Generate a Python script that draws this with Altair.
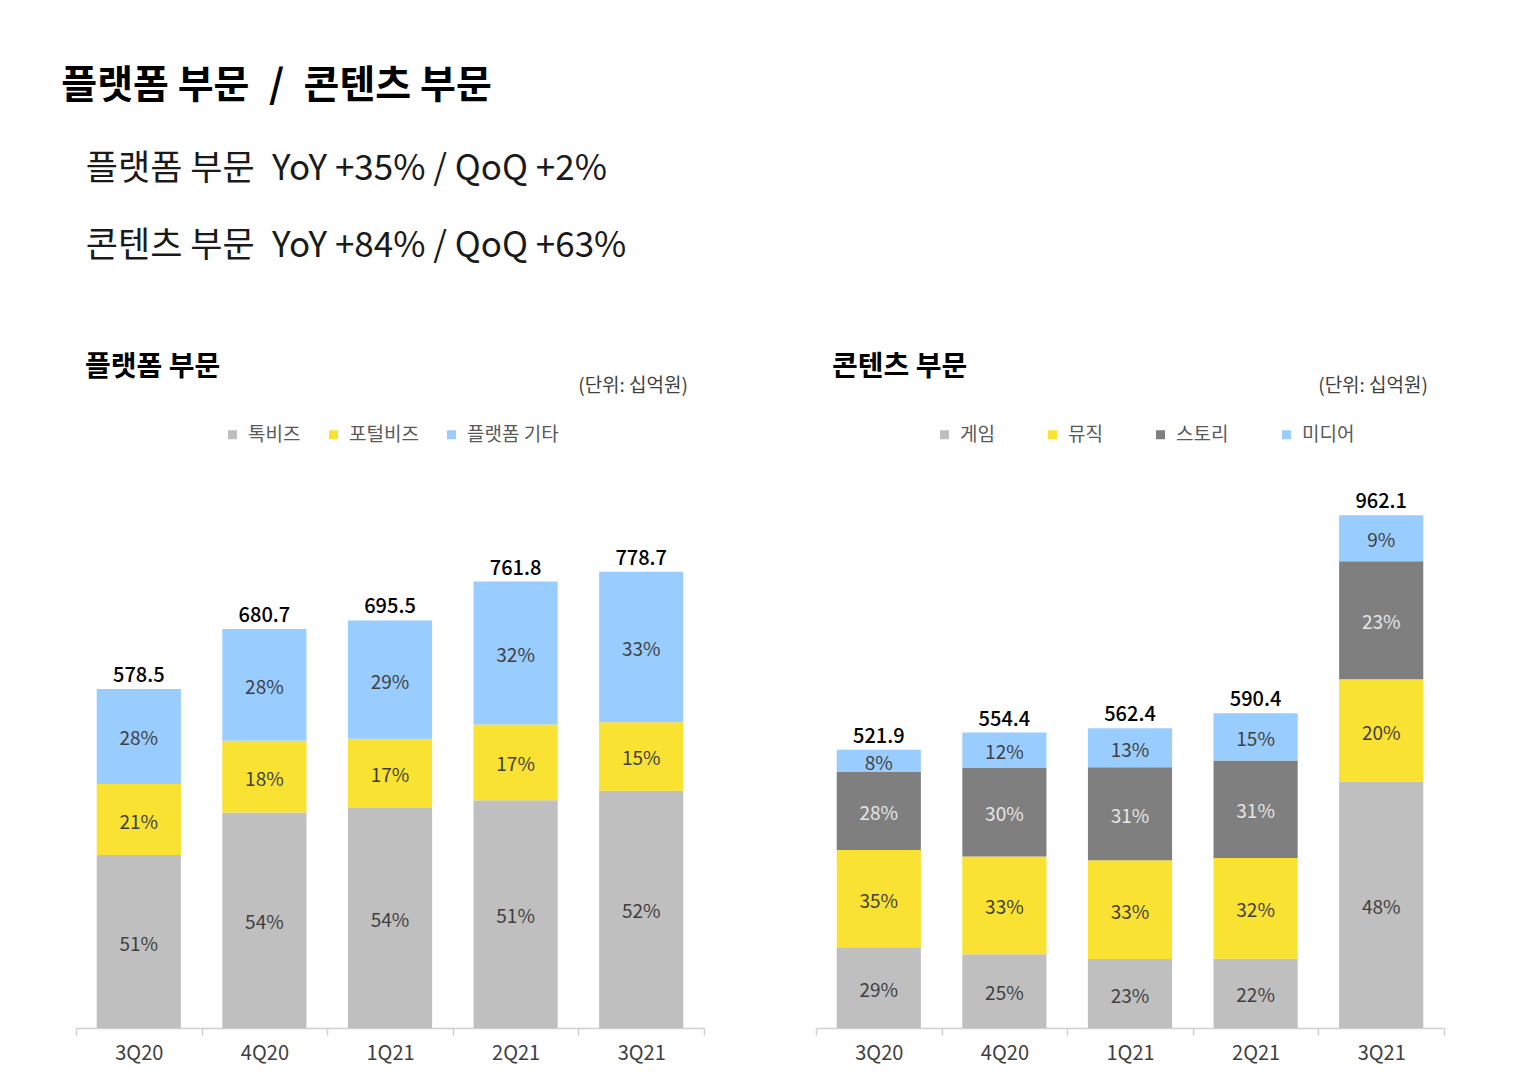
import altair as alt
import pandas as pd

FONT = "Noto Sans CJK KR"

# ---- data ----
quarters = ["3Q20", "4Q20", "1Q21", "2Q21", "3Q21"]

plat_series = ["톡비즈", "포털비즈", "플랫폼 기타"]
plat_colors = ["#BFBFBF", "#F9E232", "#99CCFF"]
plat_totals = [578.5, 680.7, 695.5, 761.8, 778.7]
plat_talk = [51, 54, 54, 51, 52]
plat_portal = [21, 18, 17, 17, 15]
plat_other = [28, 28, 29, 32, 33]

cont_series = ["게임", "뮤직", "스토리", "미디어"]
cont_colors = ["#BFBFBF", "#F9E232", "#7F7F7F", "#99CCFF"]
cont_totals = [521.9, 554.4, 562.4, 590.4, 962.1]
cont_game = [29, 25, 23, 22, 48]
cont_music = [35, 33, 33, 32, 20]
cont_story = [28, 30, 31, 31, 23]
cont_media = [8, 12, 13, 15, 9]

main_title = "플랫폼 부문\u2002/\u2002콘텐츠 부문"
sub_lines = [
    "\u200b\u2002\u2009플랫폼 부문\u2002YoY +35% / QoQ +2%",
    "\u200b\u2002\u2009콘텐츠 부문\u2002YoY +84% / QoQ +63%",
]
unit_text = "(단위: 십억원)"


def build(totals, series, shares, dark_series):
    rows = []
    for qi, q in enumerate(quarters):
        lo = 0.0
        for si, s in enumerate(series):
            pct = shares[si][qi]
            v = totals[qi] * pct / 100.0
            rows.append({
                "quarter": q, "series": s, "order": si,
                "lo": lo, "hi": lo + v, "mid": lo + v / 2,
                "label": f"{pct}%",
                "tcolor": "#E6E6E6" if s in dark_series else "#3F3F3F",
            })
            lo += v
    tot = pd.DataFrame({"quarter": quarters, "total": totals,
                        "label": [f"{t:.1f}" for t in totals]})
    return pd.DataFrame(rows), tot


def panel(df, tot, series, colors, ymax, title, title_x, legend_x, col_pad):
    xenc = alt.X("quarter:N", sort=quarters,
                 scale=alt.Scale(paddingInner=0, paddingOuter=0),
                 axis=alt.Axis(title=None, labelAngle=0, tickBand="extent",
                               domainColor="#D0D0D0", tickColor="#D0D0D0",
                               domainWidth=1.5, tickWidth=1.5,
                               tickSize=7, labelFontSize=20, labelColor="#404040",
                               labelPadding=8, labelFont=FONT, grid=False))
    yscale = alt.Scale(domain=[0, ymax], nice=False, zero=True)
    bars = alt.Chart(df).mark_bar(width=alt.RelativeBandSize(0.67)).encode(
        x=xenc,
        y=alt.Y("lo:Q", scale=yscale, axis=None),
        y2="hi:Q",
        color=alt.Color("series:N",
                        scale=alt.Scale(domain=series, range=colors),
                        legend=alt.Legend(title=None, orient="none",
                                          legendX=legend_x, legendY=-55,
                                          direction="horizontal",
                                          symbolType="square", symbolSize=81,
                                          symbolStrokeWidth=0,
                                          labelFontSize=19, labelColor="#595959",
                                          labelFont=FONT, labelOffset=6,
                                          columnPadding=col_pad)),
        order=alt.Order("order:Q"),
    )
    pct = alt.Chart(df).mark_text(fontSize=19, font=FONT, baseline="middle", dy=3).encode(
        x=alt.X("quarter:N", sort=quarters),
        y=alt.Y("mid:Q", scale=yscale),
        text="label:N",
        fill=alt.Fill("tcolor:N", scale=None),
    )
    tots = alt.Chart(tot).mark_text(fontSize=20, font=FONT, fontWeight=500,
                                    baseline="alphabetic", dy=-7, color="#000000").encode(
        x=alt.X("quarter:N", sort=quarters),
        y=alt.Y("total:Q", scale=yscale),
        text="label:N",
    )
    ttl = alt.Chart(pd.DataFrame({"t": [title]})).mark_text(
        align="left", baseline="middle", fontSize=28, fontWeight="bold",
        font=FONT, color="#000000").encode(
        x=alt.value(title_x), y=alt.value(-112), text="t:N")
    unit = alt.Chart(pd.DataFrame({"t": [unit_text]})).mark_text(
        align="right", baseline="middle", fontSize=19, font=FONT,
        color="#404040").encode(
        x=alt.value(612), y=alt.value(-94), text="t:N")
    return alt.layer(bars, pct, tots, ttl, unit).properties(width=628, height=548)


pdf, ptot = build(plat_totals, plat_series, [plat_talk, plat_portal, plat_other], [])
cdf, ctot = build(cont_totals, cont_series,
                  [cont_game, cont_music, cont_story, cont_media], ["스토리"])

left = panel(pdf, ptot, plat_series, plat_colors, 548 / 0.586, "플랫폼 부문", 9, 147, 23)
right = panel(cdf, ctot, cont_series, cont_colors, 548 / 0.533, "콘텐츠 부문", 16, 119, 48)

chart = alt.hconcat(left, right, spacing=110).resolve_scale(
    color="independent", y="independent", x="independent"
).properties(
    title=alt.TitleParams(
        text=main_title, subtitle=sub_lines, anchor="start", dx=-14,
        fontSize=39, font=FONT, fontWeight="bold", color="#000000",
        subtitleFontSize=35, subtitleFont=FONT, subtitleColor="#1A1A1A",
        subtitleFontWeight="normal",
        subtitleLineHeight=77, subtitlePadding=46, offset=90, baseline="top",
    ),
    padding={"left": 53, "top": 59, "right": 5, "bottom": 5},
).configure(font=FONT, background="#FFFFFF").configure_view(stroke=None)

chart.save("out.html", embed_options={"renderer": "svg", "actions": False})
